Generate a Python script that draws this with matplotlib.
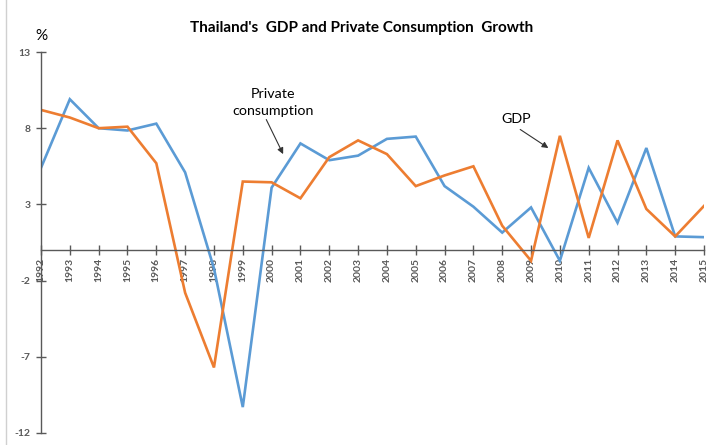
import matplotlib.pyplot as plt
from matplotlib.lines import Line2D

years = list(range(1992, 2016))
gdp = [9.2, 8.7, 8.0, 8.1, 5.7, -2.8, -7.7, 4.5, 4.45, 3.4, 6.1, 7.2, 6.3, 4.2,
       4.9, 5.5, 1.6, -0.7, 7.5, 0.8, 7.2, 2.7, 0.9, 2.9]
private_consumption = [5.4, 9.9, 8.0, 7.85, 8.3, 5.1, -1.2, -10.3, 4.1, 7.0, 5.9,
                       6.2, 7.3, 7.45, 4.2, 2.85, 1.15, 2.8, -0.7, 5.4, 1.8, 6.7,
                       0.9, 0.85]
y_ticks = [13, 8, 3, -2, -7, -12]

blue = '#5B9BD5'
orange = '#ED7D31'
grey = '#595959'

plt.rcParams['font.family'] = ['Lato', 'DejaVu Sans']

fig = plt.figure(figsize=(7.06, 4.45), dpi=100)
ax = fig.add_axes([41 / 706, 1 - 433 / 445, 663 / 706, 381 / 445])

ax.plot(years, private_consumption, color=blue, linewidth=1.9, solid_joinstyle='miter')
ax.plot(years, gdp, color=orange, linewidth=1.9, solid_joinstyle='miter')

ax.spines['top'].set_visible(False)
ax.spines['right'].set_visible(False)
ax.spines['bottom'].set_position(('data', 0))
for s in ('left', 'bottom'):
    ax.spines[s].set_color(grey)
    ax.spines[s].set_linewidth(1.0)
ax.tick_params(axis='both', direction='inout', length=7, width=1.0, color=grey)
ax.tick_params(axis='x', pad=2)
ax.tick_params(axis='y', pad=4)

ax.set_xlim(1992, 2015)
ax.set_ylim(-12, 13)
ax.set_yticks(y_ticks)
ax.set_yticklabels([str(v) for v in y_ticks], fontsize=7.5, color=grey, fontweight='bold')
ax.set_xticks(years)
ax.set_xticklabels([str(y) for y in years], fontsize=7.5, color=grey, fontweight='bold')
for lbl in ax.get_xticklabels():
    lbl.set_rotation(90)
    lbl.set_va('top')
    lbl.set_ha('center')

ax.text(1992, 13.6, '%', fontsize=11, ha='center', va='bottom')
fig.text(362 / 706, 1 - 28 / 445, "Thailand's  GDP and Private Consumption  Growth",
         fontsize=11, fontweight='bold', ha='center', va='center')

ax.annotate('Private\nconsumption', xy=(2000.4, 6.3), xytext=(2000.05, 8.75),
            fontsize=10.3, ha='center', va='bottom', linespacing=1.45,
            arrowprops=dict(arrowstyle='-|>', color='#333333', lw=0.8,
                            mutation_scale=9, shrinkA=0, shrinkB=0,
                            relpos=(0.4, 0)))
ax.annotate('GDP', xy=(2009.6, 6.7), xytext=(2008.5, 8.2),
            fontsize=10.3, ha='center', va='bottom',
            arrowprops=dict(arrowstyle='-|>', color='#333333', lw=0.8,
                            mutation_scale=9, shrinkA=2, shrinkB=0,
                            relpos=(0.4, 0)))

# thin frame edge on the left
fig.add_artist(Line2D([6 / 706, 6 / 706], [0, 1], color='#d0d0d0', lw=1.0))

fig.savefig('out.png', dpi=100)
